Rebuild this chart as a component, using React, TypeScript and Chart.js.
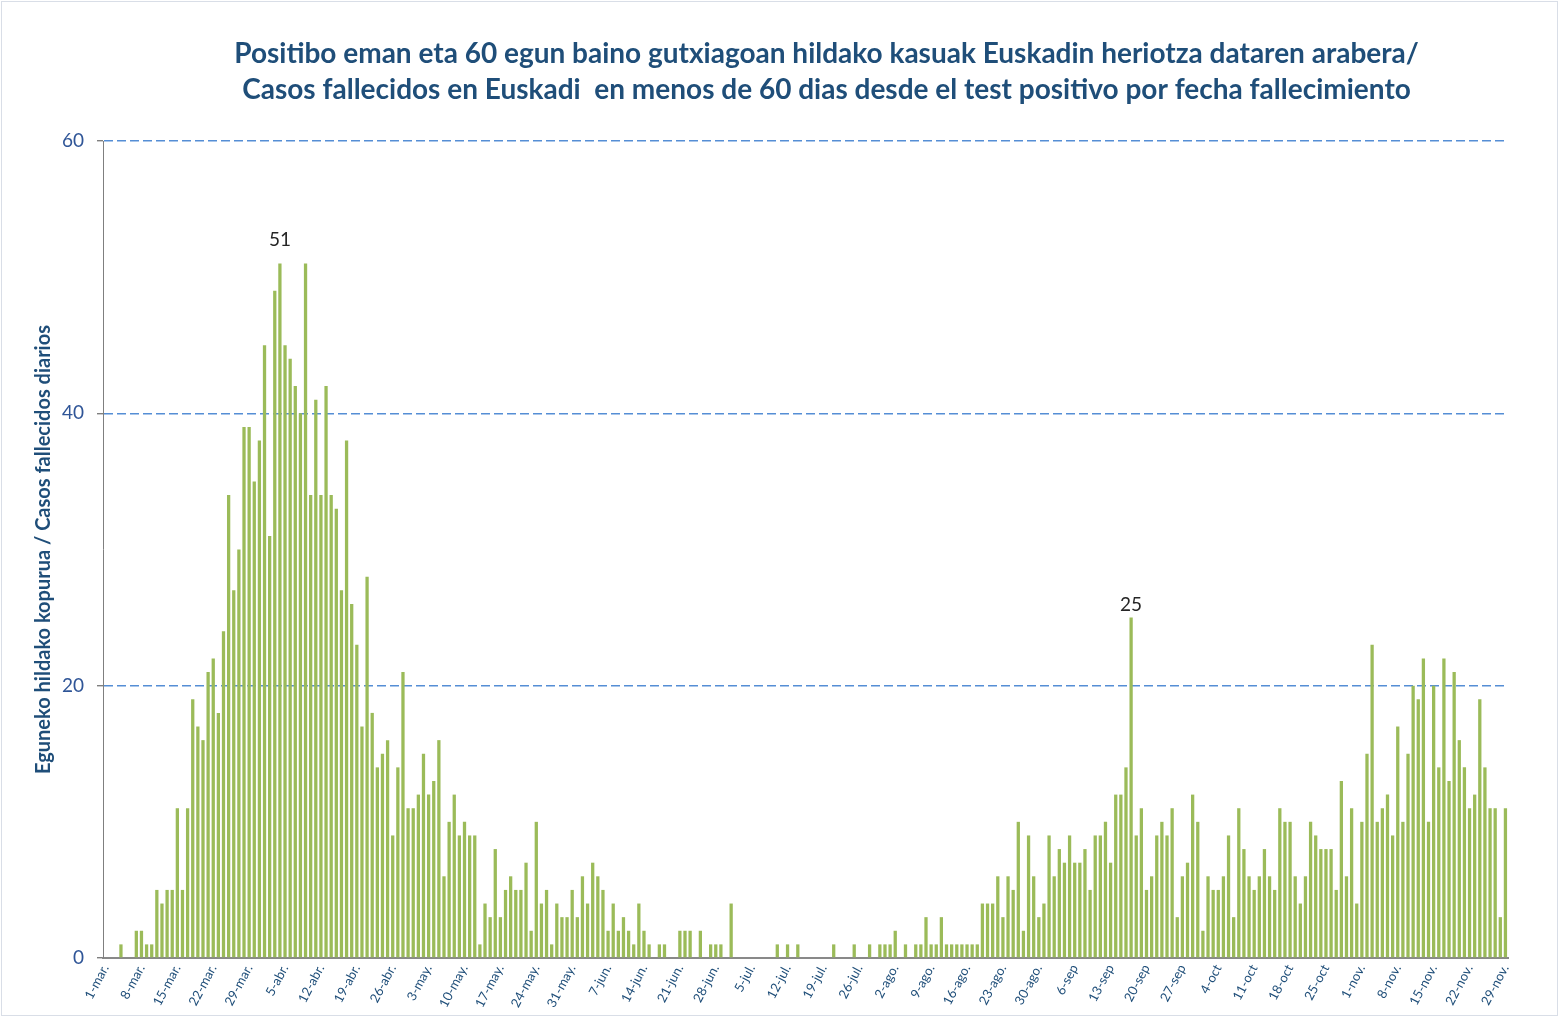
import React, { useEffect, useRef } from 'react';
import { Chart, registerables } from 'chart.js';

Chart.register(...registerables);

// Daily deaths per month (2020)
const marzo = [0, 0, 0, 1, 0, 0, 2, 2, 1, 1, 5, 4, 5, 5, 11, 5, 11, 19, 17, 16, 21, 22, 18, 24, 34, 27, 30, 39, 39, 35, 38];
const abril = [45, 31, 49, 51, 45, 44, 42, 40, 51, 34, 41, 34, 42, 34, 33, 27, 38, 26, 23, 17, 28, 18, 14, 15, 16, 9, 14, 21, 11, 11];
const mayo = [12, 15, 12, 13, 16, 6, 10, 12, 9, 10, 9, 9, 1, 4, 3, 8, 3, 5, 6, 5, 5, 7, 2, 10, 4, 5, 1, 4, 3, 3, 5];
const junio = [3, 6, 4, 7, 6, 5, 2, 4, 2, 3, 2, 1, 4, 2, 1, 0, 1, 1, 0, 0, 2, 2, 2, 0, 2, 0, 1, 1, 1, 0];
const julio = [4, 0, 0, 0, 0, 0, 0, 0, 0, 1, 0, 1, 0, 1, 0, 0, 0, 0, 0, 0, 1, 0, 0, 0, 1, 0, 0, 1, 0, 1, 1];
const agosto = [1, 2, 0, 1, 0, 1, 1, 3, 1, 1, 3, 1, 1, 1, 1, 1, 1, 1, 4, 4, 4, 6, 3, 6, 5, 10, 2, 9, 6, 3, 4];
const septiembre = [9, 6, 8, 7, 9, 7, 7, 8, 5, 9, 9, 10, 7, 12, 12, 14, 25, 9, 11, 5, 6, 9, 10, 9, 11, 3, 6, 7, 12, 10];
const octubre = [2, 6, 5, 5, 6, 9, 3, 11, 8, 6, 5, 6, 8, 6, 5, 11, 10, 10, 6, 4, 6, 10, 9, 8, 8, 8, 5, 13, 6, 11, 4];
const noviembre = [10, 15, 23, 10, 11, 12, 9, 17, 10, 15, 20, 19, 22, 10, 20, 14, 22, 13, 21, 16, 14, 11, 12, 19, 14, 11, 11, 3, 11];

const values = [...marzo, ...abril, ...mayo, ...junio, ...julio, ...agosto, ...septiembre, ...octubre, ...noviembre];

// Weekly tick labels (every 7th day)
const tickLabels = [
  '1-mar.', '8-mar.', '15-mar.', '22-mar.', '29-mar.',
  '5-abr.', '12-abr.', '19-abr.', '26-abr.',
  '3-may.', '10-may.', '17-may.', '24-may.', '31-may.',
  '7-jun.', '14-jun.', '21-jun.', '28-jun.',
  '5-jul.', '12-jul.', '19-jul.', '26-jul.',
  '2-ago.', '9-ago.', '16-ago.', '23-ago.', '30-ago.',
  '6-sep', '13-sep', '20-sep', '27-sep',
  '4-oct', '11-oct', '18-oct', '25-oct',
  '1-nov.', '8-nov.', '15-nov.', '22-nov.', '29-nov.',
];

const categories = values.map((_, i) => (i % 7 === 0 ? tickLabels[i / 7] : ''));

const yTicks = [0, 20, 40, 60];

// Indices of bars carrying a data label
const labelledBars = [34, 200];
const labelGaps = [14, 3];

const titleLines = [
  'Positibo eman eta 60 egun baino gutxiagoan hildako kasuak Euskadin heriotza dataren arabera/',
  'Casos fallecidos en Euskadi  en menos de 60 dias desde el test positivo por fecha fallecimiento',
];
const yTitle = 'Eguneko hildako kopurua / Casos fallecidos diarios';

const FONT = 'Lato, "Open Sans", "Liberation Sans", sans-serif';
const DARK_BLUE = '#1F4E79';

const peakLabelPlugin = {
  id: 'peakLabels',
  afterDatasetsDraw(chart: any) {
    const meta = chart.getDatasetMeta(0);
    const ctx = chart.ctx;
    ctx.save();
    ctx.font = `19px ${FONT}`;
    ctx.fillStyle = '#262626';
    ctx.textAlign = 'center';
    ctx.textBaseline = 'bottom';
    labelledBars.forEach((idx, k) => {
      const el = meta.data[idx];
      if (!el) return;
      ctx.fillText(String(values[idx]), el.x, el.y - labelGaps[k]);
    });
    ctx.restore();
  },
};

const titleShiftPlugin = {
  id: 'titleShift',
  afterLayout(chart: any) {
    const tb = chart.titleBlock;
    if (!tb) return;
    const ca = chart.chartArea;
    const w = tb.right - tb.left;
    const cx = (ca.left + ca.right) / 2 + 21;
    tb.left = cx - w / 2;
    tb.right = cx + w / 2;
  },
};

export default function App() {
  const canvasRef = useRef<HTMLCanvasElement | null>(null);

  useEffect(() => {
    if (!canvasRef.current) return;
    const chart = new Chart(canvasRef.current, {
      type: 'bar',
      data: {
        labels: categories,
        datasets: [
          {
            data: values,
            backgroundColor: '#9BBB59',
            borderWidth: 0,
            categoryPercentage: 1,
            barPercentage: 0.64,
          },
        ],
      },
      options: {
        animation: false,
        responsive: false,
        devicePixelRatio: 1,
        layout: { padding: { left: 0, right: 51, top: 0, bottom: 0 } },
        plugins: {
          legend: { display: false },
          tooltip: { enabled: false },
          title: {
            display: true,
            text: titleLines,
            color: DARK_BLUE,
            font: { family: FONT, size: 28, weight: 'bold', lineHeight: 36 / 28 },
            padding: { top: 36, bottom: 33 },
          },
        },
        scales: {
          x: {
            grid: { display: false, drawTicks: false },
            border: { display: true, color: '#898989', width: 2 },
            ticks: {
              autoSkip: false,
              maxRotation: 62,
              minRotation: 62,
              color: DARK_BLUE,
              font: { family: FONT, size: 13 },
              padding: 4,
            },
            afterFit: (s: any) => {
              s.height = 59;
            },
          },
          y: {
            min: 0,
            max: 60,
            afterBuildTicks: (s: any) => {
              s.ticks = yTicks.map((v) => ({ value: v }));
            },
            ticks: {
              color: '#2F5597',
              font: { family: FONT, size: 19 },
              padding: 13,
            },
            grid: {
              color: (c: any) => (c.tick && c.tick.value === 0 ? 'rgba(0,0,0,0)' : '#558ED5'),
              lineWidth: 1.4,
              tickColor: '#7F7F7F',
              tickLength: 6,
            },
            border: { display: true, color: '#7F7F7F', width: 1, dash: [9, 4] },
            title: {
              display: true,
              text: yTitle,
              color: DARK_BLUE,
              font: { family: FONT, size: 20, weight: 'bold' },
              padding: { top: 32, bottom: 0 },
            },
            afterFit: (s: any) => {
              s.width = 103;
            },
          },
        },
      },
      plugins: [peakLabelPlugin, titleShiftPlugin],
    });
    return () => chart.destroy();
  }, []);

  return (
    <div style={{ position: 'fixed', left: 0, top: 0, width: 1559, height: 1017, background: '#fff' }}>
      <canvas ref={canvasRef} width={1559} height={1017} style={{ display: 'block', width: 1559, height: 1017 }} />
      <div
        style={{
          position: 'absolute',
          left: 1,
          top: 1,
          width: 1557,
          height: 1015,
          boxSizing: 'border-box',
          border: '1px solid #D9DEE7',
          pointerEvents: 'none',
        }}
      />
    </div>
  );
}
